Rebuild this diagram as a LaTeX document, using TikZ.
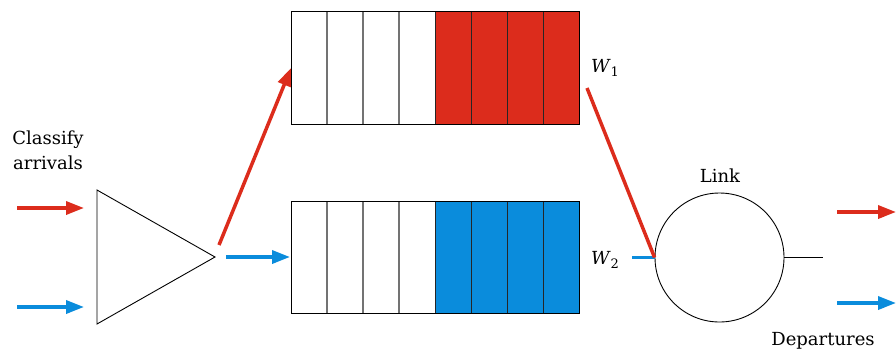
\documentclass[tikz,border=0pt]{standalone}
\usepackage{fontspec}
\setmainfont{DejaVu Serif}
\usetikzlibrary{arrows.meta}
\definecolor{qred}{HTML}{DC2C1C}
\definecolor{qblue}{HTML}{0A8CDC}
\newcommand{\wlab}[1]{\textit{W}\raisebox{-4pt}{\fontsize{13}{13}\selectfont #1}}
\begin{document}
\begin{tikzpicture}[x=1pt,y=-1pt,
  flow/.style={line width=3.5pt,-{Triangle[length=18pt,width=13pt]}},
  plain/.style={line width=3.5pt},
  lbl/.style={font=\fontsize{18}{25}\selectfont,inner sep=0pt},
  cellw/.style={draw=black!55,line width=1.3pt},
  celld/.style={draw=black!85,line width=1pt}]
\useasboundingbox (0,0) rectangle (896,354);
% triangle classifier
\coordinate (ta) at (97,190);
\coordinate (tb) at (97,324);
\coordinate (tip) at (215,257);
\draw[line width=0.9pt,line join=miter] (ta) -- (tip) -- (tb) -- cycle;
\node[lbl,align=center] (cls) at (48,150) {Classify\\arrivals};
% incoming arrows
\coordinate (ri0) at (17,208); \coordinate (ri1) at (84,208);
\coordinate (bi0) at (17,307); \coordinate (bi1) at (84,307);
\draw[flow,qred] (ri0) -- (ri1);
\draw[flow,qblue] (bi0) -- (bi1);
% top queue
\fill[qred] (435,11) rectangle (579,124);
\foreach \x in {327,363,399} \draw[cellw] (\x,11) -- (\x,124);
\foreach \x in {435,471,507,543} \draw[celld] (\x,11) -- (\x,124);
\draw[line width=1pt] (291,11) rectangle (579,124);
\coordinate (q1in) at (291,68);
% bottom queue
\fill[qblue] (435,201) rectangle (579,313);
\foreach \x in {327,363,399} \draw[cellw] (\x,201) -- (\x,313);
\foreach \x in {435,471,507,543} \draw[celld] (\x,201) -- (\x,313);
\draw[line width=1pt] (291,201) rectangle (579,313);
\coordinate (q2in) at (290,257);
% classifier to queues
\coordinate (rs) at (219,245);
\coordinate (bs) at (226,257);
\draw[flow,qred] (rs) -- (q1in);
\draw[flow,qblue] (bs) -- (q2in);
% weights
\node[lbl] (w1) at (605,68) {\wlab{1}};
\node[lbl] (w2) at (605,260) {\wlab{2}};
% link
\node[draw,circle,line width=0.9pt,minimum size=129pt,inner sep=0] (link) at (719.5,257.5) {};
\node[lbl] (linklbl) at (720,176) {Link};
\coordinate (r0) at (587,88);
\draw[plain,qblue] (632,257.5) -- (link.west);
\draw[plain,qred,line cap=butt] (r0) -- (link.west);
\coordinate (lo) at (823,257.5);
\draw[line width=0.8pt] (link.east) -- (lo);
% departures
\coordinate (ro0) at (837,212); \coordinate (ro1) at (896,212);
\coordinate (bo0) at (837,303); \coordinate (bo1) at (896,303);
\draw[flow,qred] (ro0) -- (ro1);
\draw[flow,qblue] (bo0) -- (bo1);
\node[lbl] (dep) at (823,341) {Departures};
\end{tikzpicture}
\end{document}
